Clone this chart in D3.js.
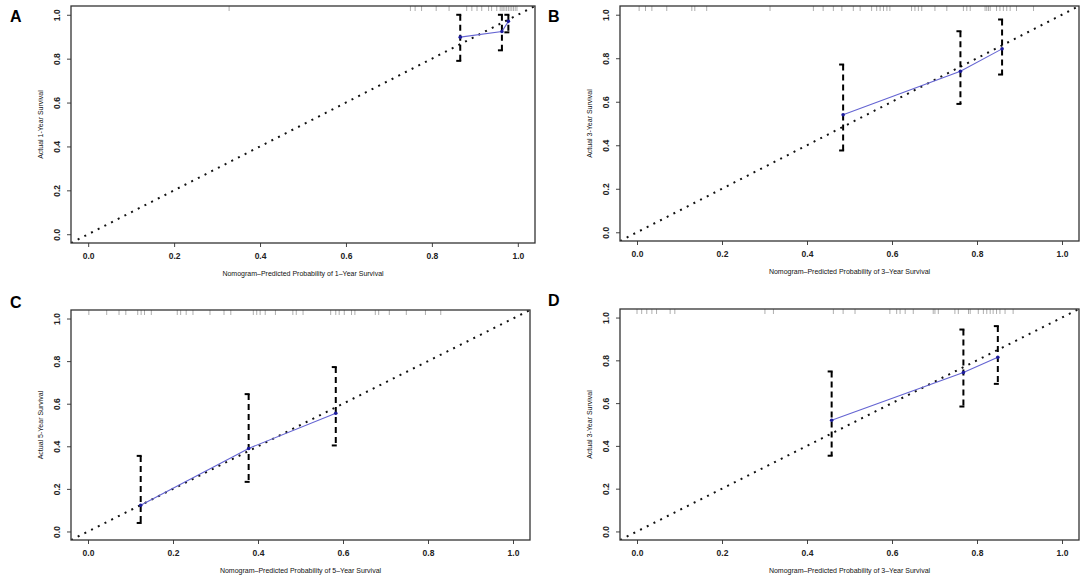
<!DOCTYPE html>
<html>
<head>
<meta charset="utf-8">
<script src="https://cdn.jsdelivr.net/npm/d3@7"></script>
<style>
  body { margin: 0; background: #fff; }
  svg { display: block; font-family: Arial, "Liberation Sans", sans-serif; }
</style>
</head>
<body>
<svg id="chart" width="1084" height="587"></svg>
<script>
// panel letters and survival horizon
const letters = ["A", "B", "C", "D"];
const years = [1, 3, 5, 3];

// calibration points: nomogram-predicted vs actual, with CI
const predA = [0.866, 0.963, 0.978];
const obsA  = [0.898, 0.924, 0.970];
const loA   = [0.790, 0.838, 0.920];
const hiA   = [1.000, 1.000, 1.000];

const predB = [0.485, 0.761, 0.859];
const obsB  = [0.540, 0.740, 0.843];
const loB   = [0.376, 0.590, 0.725];
const hiB   = [0.771, 0.924, 0.978];

const predC = [0.124, 0.378, 0.583];
const obsC  = [0.123, 0.390, 0.555];
const loC   = [0.040, 0.233, 0.404];
const hiC   = [0.355, 0.645, 0.772];

const predD = [0.458, 0.768, 0.849];
const obsD  = [0.520, 0.743, 0.814];
const loD   = [0.354, 0.584, 0.690];
const hiD   = [0.748, 0.944, 0.960];

// rug of predicted probabilities (top of each panel)
const rugA = [0.328, 0.75, 0.761, 0.776, 0.81, 0.84, 0.881, 0.893, 0.905, 0.916, 0.932, 0.939,
  0.951, 0.959, 0.963, 0.966, 0.97, 0.974, 0.978, 0.982, 0.986, 0.99, 0.994, 0.998];
const rugB = [0.005, 0.02, 0.035, 0.07, 0.129, 0.136, 0.164, 0.313, 0.415, 0.438, 0.462, 0.482,
  0.509, 0.525, 0.552, 0.564, 0.572, 0.58, 0.588, 0.595, 0.646, 0.654, 0.662, 0.67, 0.701, 0.729,
  0.768, 0.776, 0.784, 0.819, 0.823, 0.827, 0.831, 0.846, 0.854, 0.862, 0.87, 0.878, 0.893, 0.933];
const rugC = [0.002, 0.044, 0.073, 0.089, 0.117, 0.125, 0.133, 0.149, 0.21, 0.218, 0.231, 0.247,
  0.287, 0.32, 0.336, 0.389, 0.397, 0.405, 0.417, 0.441, 0.482, 0.49, 0.506, 0.571, 0.583, 0.591,
  0.603, 0.62, 0.628, 0.676, 0.684, 0.709, 0.749, 0.794, 0.83];
const rugD = [0.0, 0.011, 0.023, 0.035, 0.046, 0.078, 0.089, 0.301, 0.321, 0.462, 0.485, 0.513,
  0.595, 0.611, 0.619, 0.631, 0.65, 0.697, 0.701, 0.709, 0.748, 0.756, 0.78, 0.784, 0.803, 0.815,
  0.823, 0.831, 0.838, 0.846, 0.854, 0.866, 0.885];

const tickVals = [0, 0.2, 0.4, 0.6, 0.8, 1.0];
const tickLabels = ["0.0", "0.2", "0.4", "0.6", "0.8", "1.0"];

const panels = [
  { pred: predA, obs: obsA, lo: loA, hi: hiA, rug: rugA, box: [71, 535, 6, 243],   letterPos: [10, 22] },
  { pred: predB, obs: obsB, lo: loB, hi: hiB, rug: rugB, box: [620, 1079, 6, 241], letterPos: [548, 22] },
  { pred: predC, obs: obsC, lo: loC, hi: hiC, rug: rugC, box: [71, 530, 310, 540], letterPos: [10, 308] },
  { pred: predD, obs: obsD, lo: loD, hi: hiD, rug: rugD, box: [620, 1079, 309, 540], letterPos: [548, 306] }
];

const svg = d3.select("#chart");
const dom = [-0.04, 1.04];

panels.forEach((p, i) => {
  const [x0, x1, y0, y1] = p.box;
  const x = d3.scaleLinear().domain(dom).range([x0, x1]);
  const y = d3.scaleLinear().domain(dom).range([y1, y0]);
  const g = svg.append("g");

  const clipId = "clip" + i;
  svg.append("clipPath").attr("id", clipId)
    .append("rect").attr("x", x0).attr("y", y0).attr("width", x1 - x0).attr("height", y1 - y0);

  // axes, R style
  const xAxis = d3.axisBottom(x).tickValues(tickVals).tickFormat((d, k) => tickLabels[k]).tickSize(4).tickPadding(6);
  const gx = g.append("g").attr("transform", `translate(0,${y1})`).call(xAxis);
  gx.select(".domain").remove();
  gx.selectAll("line").attr("stroke", "#444");
  gx.selectAll("text").attr("font-size", 8.5).attr("font-weight", "bold").attr("fill", "#222").attr("font-family", "Arial, sans-serif");

  const yAxis = d3.axisLeft(y).tickValues(tickVals).tickFormat((d, k) => tickLabels[k]).tickSize(4);
  const gy = g.append("g").attr("transform", `translate(${x0},0)`).call(yAxis);
  gy.select(".domain").remove();
  gy.selectAll("line").attr("stroke", "#444");
  gy.selectAll("text")
    .attr("font-size", 8.5).attr("font-weight", "bold").attr("fill", "#222").attr("font-family", "Arial, sans-serif")
    .attr("x", null).attr("dy", null)
    .attr("text-anchor", "middle")
    .attr("transform", "translate(-11,0) rotate(-90)");

  // rug
  g.append("g").selectAll("line").data(p.rug).join("line")
    .attr("x1", d => x(d)).attr("x2", d => x(d))
    .attr("y1", y0).attr("y2", y0 + 5)
    .attr("stroke", "#999").attr("stroke-width", 0.8);

  // ideal line
  g.append("line")
    .attr("clip-path", `url(#${clipId})`)
    .attr("x1", x(dom[0])).attr("y1", y(dom[0]))
    .attr("x2", x(dom[1])).attr("y2", y(dom[1]))
    .attr("stroke", "#111").attr("stroke-width", 2)
    .attr("stroke-dasharray", "2,5.5");

  // error bars
  const idx = d3.range(p.pred.length);
  const eb = g.append("g");
  eb.selectAll("line.bar").data(idx).join("line").attr("class", "bar")
    .attr("x1", k => x(p.pred[k])).attr("x2", k => x(p.pred[k]))
    .attr("y1", k => y(p.hi[k])).attr("y2", k => y(p.lo[k]))
    .attr("stroke", "#000").attr("stroke-width", 2).attr("stroke-dasharray", "6,4");
  eb.selectAll("line.capt").data(idx).join("line").attr("class", "capt")
    .attr("x1", k => x(p.pred[k]) - 4).attr("x2", k => x(p.pred[k]) + 1)
    .attr("y1", k => y(p.hi[k])).attr("y2", k => y(p.hi[k]))
    .attr("stroke", "#000").attr("stroke-width", 2);
  eb.selectAll("line.capb").data(idx).join("line").attr("class", "capb")
    .attr("x1", k => x(p.pred[k]) - 4).attr("x2", k => x(p.pred[k]) + 1)
    .attr("y1", k => y(p.lo[k])).attr("y2", k => y(p.lo[k]))
    .attr("stroke", "#000").attr("stroke-width", 2);

  // observed line and points
  const line = d3.line().x(k => x(p.pred[k])).y(k => y(p.obs[k]));
  g.append("path").attr("d", line(idx))
    .attr("fill", "none").attr("stroke", "#6464d2").attr("stroke-width", 1.1);
  g.selectAll("circle").data(idx).join("circle")
    .attr("cx", k => x(p.pred[k])).attr("cy", k => y(p.obs[k]))
    .attr("r", 1.8).attr("fill", "#1c1c9c");

  // frame
  g.append("rect").attr("x", x0).attr("y", y0).attr("width", x1 - x0).attr("height", y1 - y0)
    .attr("fill", "none").attr("stroke", "#333").attr("stroke-width", 1.3);

  // titles
  g.append("text")
    .attr("x", (x(0) + x(1)) / 2).attr("y", y1 + 33)
    .attr("text-anchor", "middle").attr("font-size", 7).attr("fill", "#111")
    .text(`Nomogram\u2013Predicted Probability of ${years[i]}\u2013Year Survival`);
  g.append("text")
    .attr("transform", `translate(${x0 - 28},${(y(0) + y(1)) / 2}) rotate(-90)`)
    .attr("text-anchor", "middle").attr("font-size", 7).attr("fill", "#111")
    .text(`Actual ${years[i]}-Year Survival`);

  // panel letter
  svg.append("text")
    .attr("x", p.letterPos[0]).attr("y", p.letterPos[1])
    .attr("font-size", 16).attr("font-weight", "bold").attr("fill", "#000")
    .text(letters[i]);
});
</script>
</body>
</html>
